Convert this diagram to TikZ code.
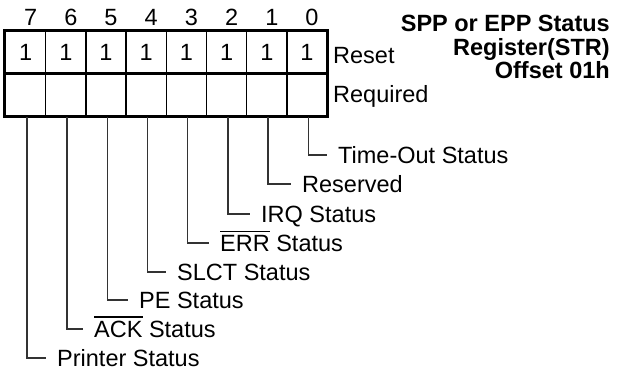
\documentclass[tikz,border=0pt]{standalone}
\usepackage{fontspec}
\setmainfont{Liberation Sans}
\newcommand\olbar[1]{\leavevmode\vbox{\hrule height 1.3pt\kern 3.5pt\hbox{#1}}}
\begin{document}
\begin{tikzpicture}[x=1pt,y=-1pt,
  lbl/.style={font=\fontsize{23.5}{23.5}\selectfont, inner sep=0pt, text height=17pt, text depth=0pt},
  ttl/.style={font=\fontsize{23.5}{23.5}\selectfont\bfseries, inner sep=0pt, align=right},
  cellA/.style={draw, line width=1.3pt, minimum width=40.2pt, minimum height=41.5pt, inner sep=0pt, font=\fontsize{23.5}{23.5}\selectfont},
  cellB/.style={draw, line width=1.3pt, minimum width=40.2pt, minimum height=43pt, inner sep=0pt},
  heavy/.style={line width=3pt},
  leader/.style={line width=1.3pt, draw=black!80},
]
\useasboundingbox (0,0) rectangle (619,370);
% cells
\foreach \i in {0,...,7} {
  \pgfmathsetmacro\cx{5.5+40.2*(7-\i)+20.1}
  \node[cellA] (r\i) at (\cx,52.25) {1};
  \node[cellB] (q\i) at (\cx,94.5) {};
  \node[lbl, anchor=base] (b\i) at (\cx+5,25) {\i};
}
% heavy frame
\draw[heavy] (r7.north west) rectangle (q0.south east);
\draw[heavy] (r7.south west) -- (r0.south east);
% row labels
\node[lbl, anchor=base west] (reset) at (333,63) {Reset};
\node[lbl, anchor=base west, text depth=5pt] (req) at (333,102) {Required};
% title
\node[ttl, anchor=north east] (title) at (610,15) {SPP or EPP Status\\Register(STR)\\Offset 01h};
% bit labels
\node[lbl, anchor=west] (l0) at (338,155) {Time-Out Status};
\node[lbl, anchor=west] (l1) at (302,184) {Reserved};
\node[lbl, anchor=west] (l2) at (261,214) {IRQ Status};
\node[lbl, anchor=west] (l3) at (220,243) {\olbar{ERR} Status};
\node[lbl, anchor=west] (l4) at (177,272) {SLCT Status};
\node[lbl, anchor=west] (l5) at (139,300) {PE Status};
\node[lbl, anchor=west] (l6) at (94,329) {\olbar{ACK} Status};
\node[lbl, anchor=west] (l7) at (57,358) {Printer Status};
% leaders
\foreach \i in {0,...,7} {
  \draw[leader] ([xshift=1.3pt]q\i.south) |- ([xshift=-11pt]l\i.west);
}
\end{tikzpicture}
\end{document}
